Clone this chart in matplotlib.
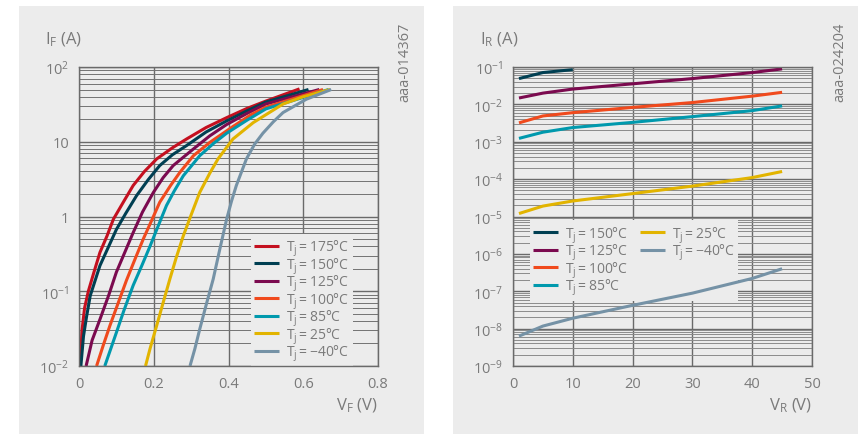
import numpy as np
import matplotlib
matplotlib.use("Agg")
import matplotlib.pyplot as plt
from matplotlib.patches import Rectangle
from matplotlib.lines import Line2D
from matplotlib.ticker import LogLocator, FixedLocator, NullFormatter

plt.rcParams["font.family"] = ["Open Sans", "DejaVu Sans"]
plt.rcParams["mathtext.fontset"] = "custom"
plt.rcParams["mathtext.rm"] = "Open Sans"
plt.rcParams["mathtext.it"] = "Open Sans"

# ---- forward characteristic: V_F (V) vs I_F (A) ----
vf_175 = [0.003, 0.008, 0.015, 0.025, 0.04, 0.056, 0.075, 0.092, 0.12, 0.145, 0.175, 0.208, 0.25, 0.288, 0.34, 0.395, 0.45, 0.5, 0.59]
if_175 = [0.01, 0.03, 0.06, 0.1, 0.18, 0.33, 0.55, 0.92, 1.6, 2.6, 4.0, 5.9, 8.3, 10.9, 15.5, 21, 28, 35, 51]
vf_150 = [0.005, 0.012, 0.02, 0.03, 0.056, 0.1, 0.125, 0.154, 0.185, 0.216, 0.25, 0.288, 0.34, 0.395, 0.45, 0.5, 0.614]
if_150 = [0.01, 0.025, 0.045, 0.087, 0.22, 0.67, 1.1, 1.9, 3.1, 4.8, 6.7, 8.9, 13.5, 19, 26, 34, 50]
vf_125 = [0.019, 0.035, 0.056, 0.08, 0.1, 0.145, 0.17, 0.199, 0.225, 0.252, 0.306, 0.35, 0.395, 0.45, 0.5, 0.643]
if_125 = [0.01, 0.022, 0.042, 0.09, 0.18, 0.61, 1.15, 2.1, 3.3, 4.8, 8.0, 12, 17, 24, 32, 50]
vf_100 = [0.047, 0.065, 0.083, 0.105, 0.127, 0.15, 0.172, 0.195, 0.216, 0.245, 0.27, 0.306, 0.35, 0.412, 0.46, 0.5, 0.653]
if_100 = [0.01, 0.019, 0.035, 0.07, 0.14, 0.27, 0.5, 0.9, 1.55, 2.6, 3.9, 6.5, 9.8, 16, 23, 29, 50]
vf_85 = [0.069, 0.085, 0.1, 0.12, 0.145, 0.168, 0.19, 0.212, 0.234, 0.255, 0.279, 0.323, 0.36, 0.395, 0.45, 0.5, 0.668]
if_85 = [0.01, 0.017, 0.028, 0.055, 0.12, 0.22, 0.4, 0.75, 1.4, 2.2, 3.5, 6.5, 9.5, 13, 19.5, 27.5, 50]
vf_25 = [0.178, 0.19, 0.208, 0.225, 0.243, 0.26, 0.279, 0.3, 0.323, 0.35, 0.372, 0.412, 0.466, 0.546, 0.6, 0.672]
if_25 = [0.01, 0.017, 0.035, 0.07, 0.145, 0.28, 0.55, 1.05, 2.1, 3.8, 5.9, 10.9, 18, 32, 40, 50]
vf_m40 = [0.297, 0.31, 0.323, 0.34, 0.359, 0.377, 0.395, 0.408, 0.421, 0.448, 0.47, 0.492, 0.52, 0.546, 0.608, 0.675]
if_m40 = [0.01, 0.017, 0.031, 0.065, 0.145, 0.37, 0.92, 1.6, 2.6, 5.9, 9.3, 13, 18.5, 24.6, 37, 50]

# ---- reverse characteristic: V_R (V) vs I_R (A) ----
vr = [1, 5, 10, 20, 30, 40, 45]
ir_150 = [0.049, 0.071, 0.085]
ir_125 = [0.0148, 0.020, 0.0257, 0.0355, 0.049, 0.071, 0.089]
ir_100 = [0.0032, 0.0049, 0.006, 0.0083, 0.0112, 0.0166, 0.021]
ir_85 = [0.00123, 0.0018, 0.0024, 0.0033, 0.0047, 0.0068, 0.0091]
ir_25 = [1.2e-5, 1.9e-5, 2.6e-5, 4.1e-5, 6.5e-5, 1.1e-4, 1.6e-4]
ir_m40 = [6.3e-9, 1.17e-8, 1.9e-8, 4.2e-8, 8.9e-8, 2.2e-7, 4.0e-7]

C = {"175": "#c4101f", "150": "#003f52", "125": "#7b0a4f", "100": "#f04a1d",
     "85": "#0099ad", "25": "#e2b400", "-40": "#7592a6"}
TXT = "#7a7a7a"
BG = "#ececec"


def lab(t):
    return r"T$_\mathregular{j}$" + "\u2009=\u2009" + t + "°C"


fig = plt.figure(figsize=(8.58, 4.35), dpi=100)
fig.patch.set_facecolor("white")
for x0 in (19, 453):
    fig.patches.append(Rectangle((x0 / 858, 0), 405 / 858, 428 / 435, transform=fig.transFigure,
                                 facecolor=BG, edgecolor="none", zorder=-10))

axL = fig.add_axes([79 / 858, 68 / 435, 299 / 858, 299 / 435])
axR = fig.add_axes([513 / 858, 68 / 435, 299 / 858, 299 / 435])


def style(ax, mcol):
    ax.set_facecolor(BG)
    ax.set_yscale("log")
    ax.yaxis.set_minor_locator(LogLocator(base=10, subs=[2, 3, 4, 5, 6, 7, 8, 9], numticks=30))
    ax.yaxis.set_minor_formatter(NullFormatter())
    ax.grid(True, which="major", color="#6a6a6a", lw=1.0)
    ax.grid(True, which="minor", axis="y", color=mcol, lw=0.7)
    ax.tick_params(which="both", length=0, colors=TXT, labelsize=10.5, pad=7)
    for s in ax.spines.values():
        s.set_color("#6a6a6a")
        s.set_linewidth(1.0)
    ax.set_axisbelow(True)


def legstyle(leg):
    leg.get_frame().set_facecolor(BG)
    leg.get_frame().set_edgecolor("none")
    leg.get_frame().set_alpha(1)
    leg.set_zorder(1.5)


LEG = dict(frameon=True, fontsize=10, handlelength=1.8, handletextpad=0.5, labelspacing=-0.22,
           borderpad=0.25, labelcolor=TXT, fancybox=False)

# left
style(axL, "#737373")
for v, i, k in [(vf_175, if_175, "175"), (vf_150, if_150, "150"), (vf_125, if_125, "125"),
                (vf_100, if_100, "100"), (vf_85, if_85, "85"), (vf_25, if_25, "25"), (vf_m40, if_m40, "-40")]:
    axL.plot(v, i, color=C[k], lw=2.2, label=lab(k.replace("-", "−")), solid_capstyle="butt", zorder=2)
axL.set_xlim(0, 0.8)
axL.set_ylim(0.01, 100)
axL.xaxis.set_major_locator(FixedLocator([0, 0.2, 0.4, 0.6, 0.8]))
axL.set_xticklabels(["0", "0.2", "0.4", "0.6", "0.8"])
axL.yaxis.set_major_locator(FixedLocator([0.01, 0.1, 1, 10, 100]))
axL.set_yticklabels([r"10$^{-2}$", r"10$^{-1}$", "1", "10", r"10$^{2}$"])
legL = axL.legend(loc="upper right", bbox_to_anchor=(0.94, 0.465), **LEG)
legstyle(legL)

# right
style(axR, "#8c8c8c")
for i, k in [(ir_150, "150"), (ir_125, "125"), (ir_100, "100"), (ir_85, "85"), (ir_25, "25"), (ir_m40, "-40")]:
    axR.plot(vr[:len(i)], i, color=C[k], lw=2.2, label=lab(k.replace("-", "−")), solid_capstyle="butt", zorder=2)
axR.set_xlim(0, 50)
axR.set_ylim(1e-9, 1e-1)
axR.xaxis.set_major_locator(FixedLocator([0, 10, 20, 30, 40, 50]))
axR.yaxis.set_major_locator(FixedLocator([10.0 ** e for e in range(-9, 0)]))
axR.set_yticklabels([r"10$^{%d}$" % e for e in range(-9, 0)])
h, l = axR.get_legend_handles_labels()
blank = Line2D([], [], color="none")
h = h + [blank, blank]
l = l + ["", ""]
legR = axR.legend(h, l, loc="upper left", bbox_to_anchor=(0.033, 0.51), ncol=2, columnspacing=0.8, **LEG)
legstyle(legR)

# axis titles and figure ids
fig.text(45 / 858, 1 - 40 / 435, r"I$_\mathregular{F}$ (A)", color=TXT, fontsize=12, va="center")
fig.text(378 / 858, 1 - 406 / 435, r"V$_\mathregular{F}$ (V)", color=TXT, fontsize=12, va="center", ha="right")
fig.text(480 / 858, 1 - 40 / 435, r"I$_\mathregular{R}$ (A)", color=TXT, fontsize=12, va="center")
fig.text(812 / 858, 1 - 406 / 435, r"V$_\mathregular{R}$ (V)", color=TXT, fontsize=12, va="center", ha="right")
fig.text(405 / 858, 1 - 62 / 435, "aaa-014367", color=TXT, fontsize=10.5, rotation=90, va="center", ha="center")
fig.text(840 / 858, 1 - 62 / 435, "aaa-024204", color=TXT, fontsize=10.5, rotation=90, va="center", ha="center")

fig.savefig("out.png", dpi=100)
